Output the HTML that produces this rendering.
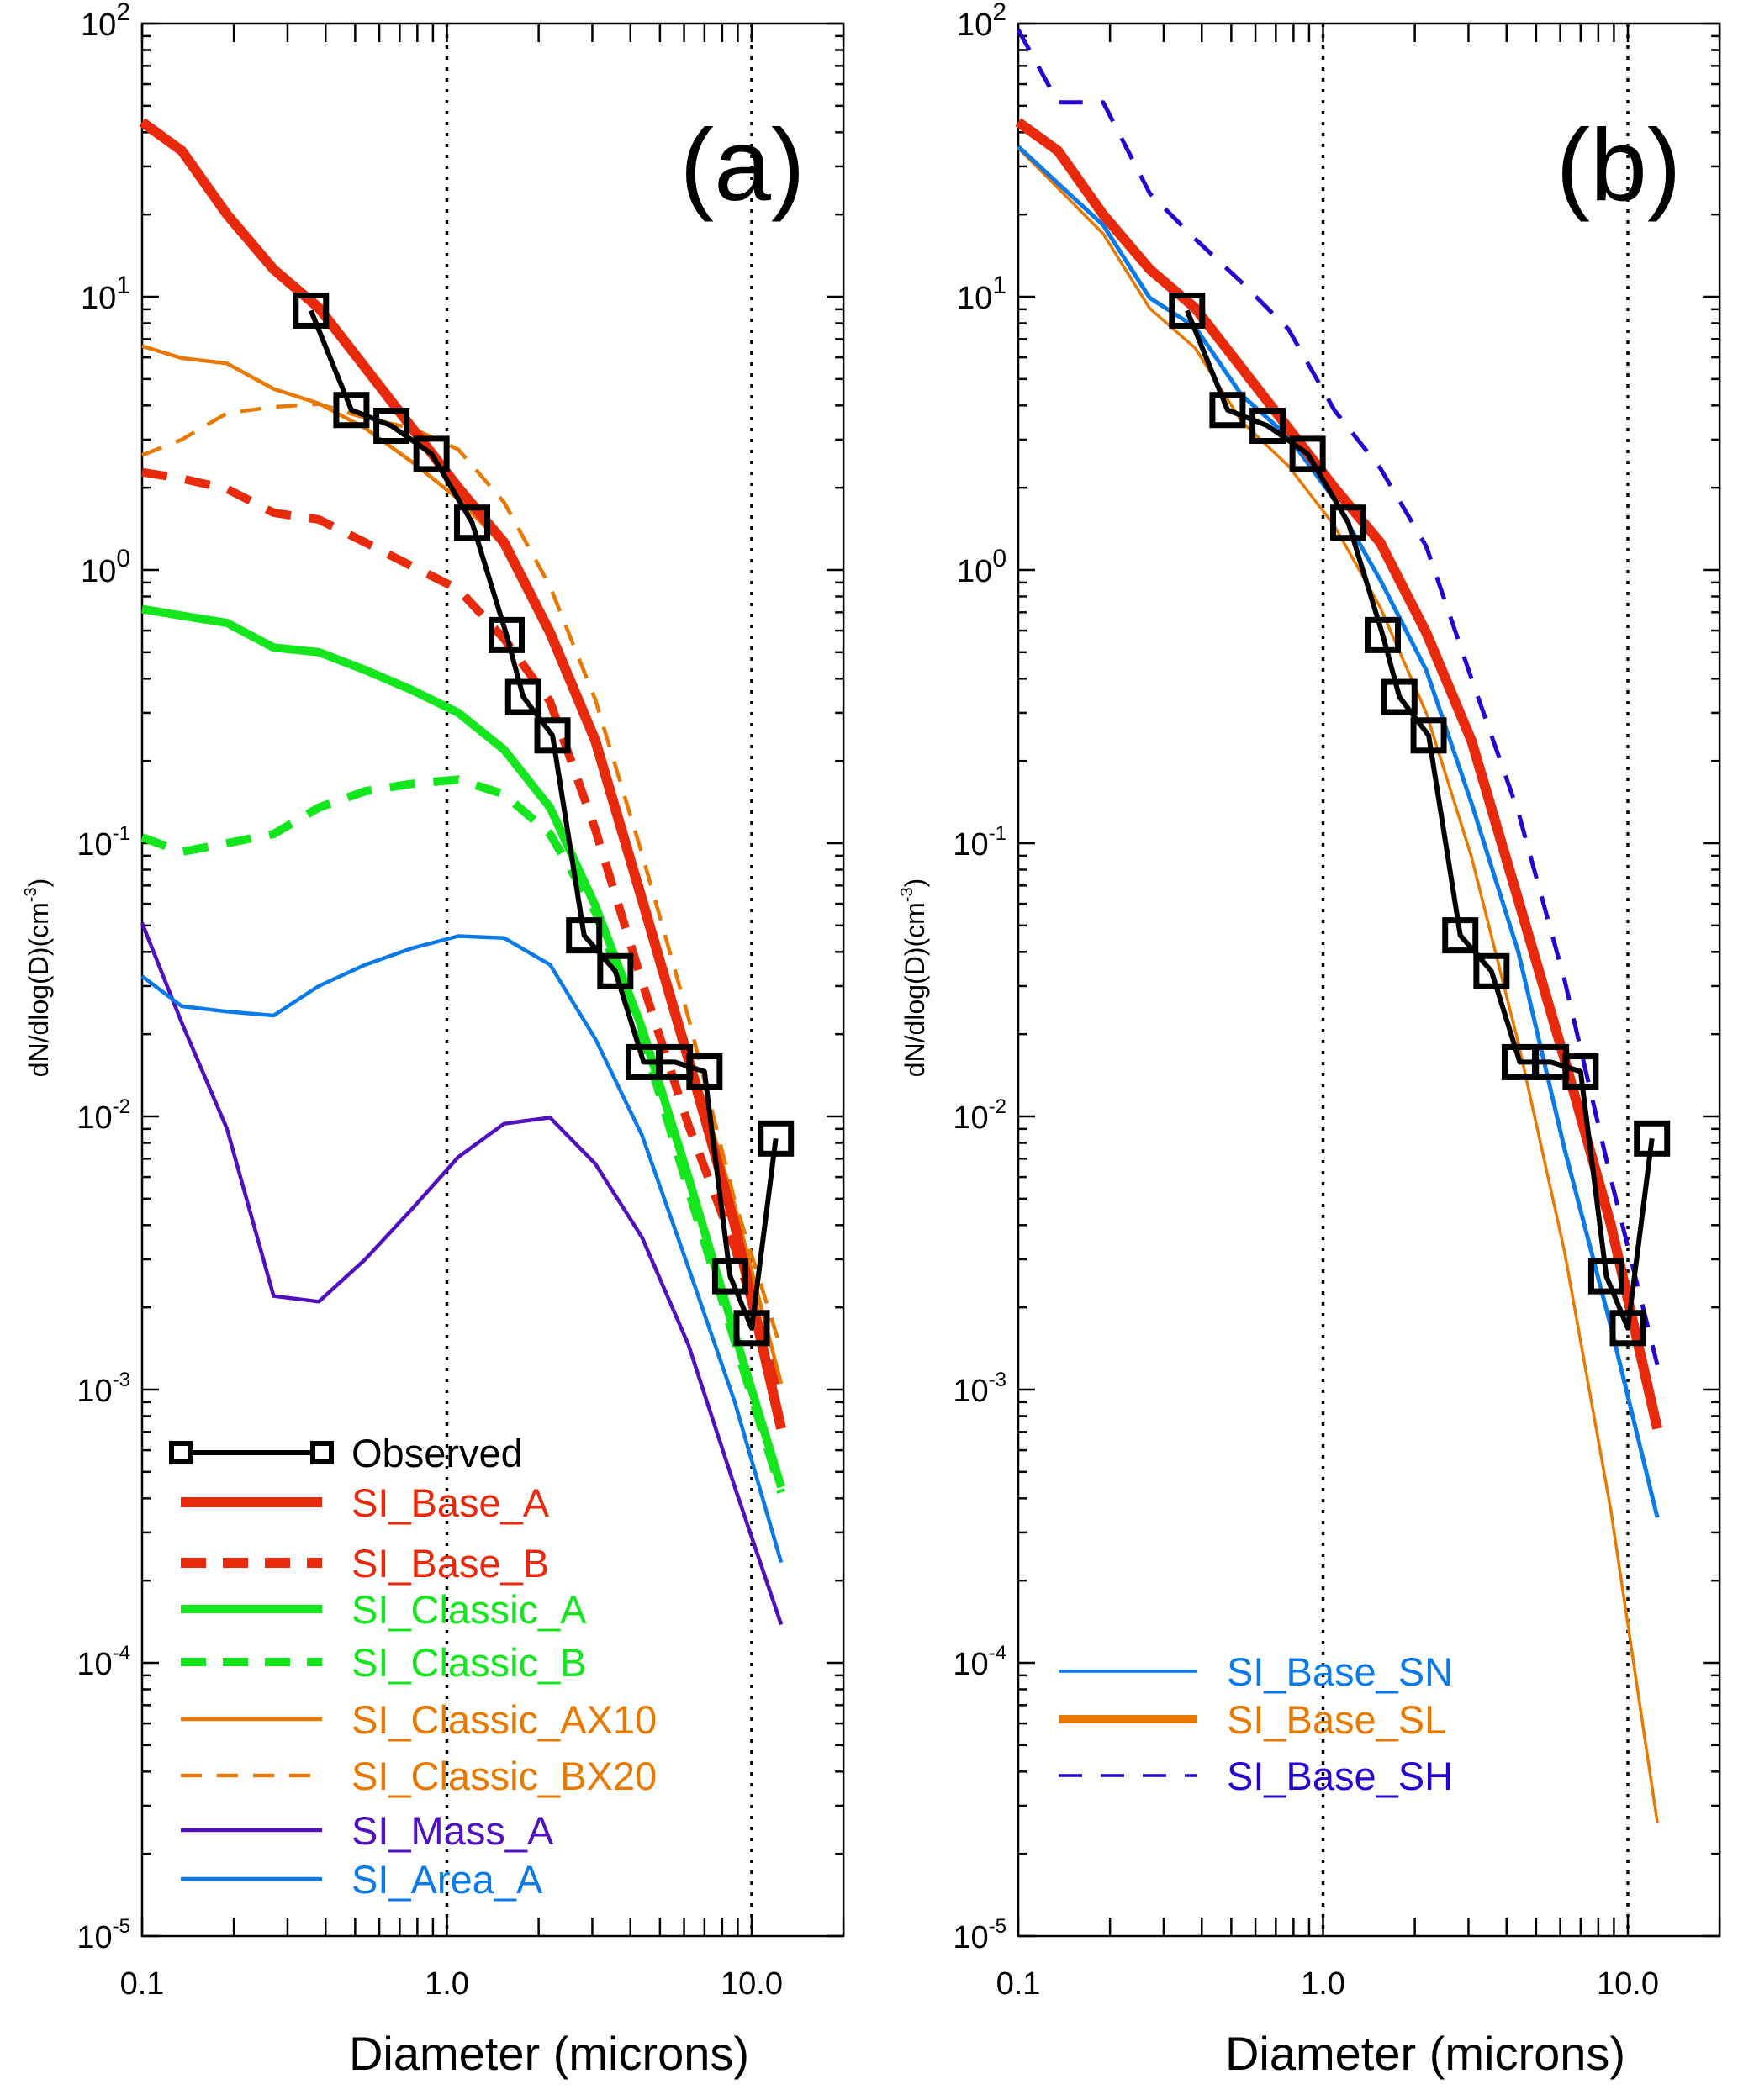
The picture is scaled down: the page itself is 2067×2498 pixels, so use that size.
<!DOCTYPE html>
<html><head><meta charset="utf-8"><style>
html,body{margin:0;padding:0;background:#fff;}
svg{display:block;font-family:"Liberation Sans",sans-serif;}
</style></head><body>
<svg id="chart" width="2067" height="2498" viewBox="0 0 2067 2498" xmlns="http://www.w3.org/2000/svg"></svg>
<script>
// ---- data ----
const gridX = [0.1,0.135,0.19,0.27,0.38,0.54,0.77,1.09,1.54,2.18,3.07,4.37,6.2,8.8,12.5];
const obsX = [0.358,0.486,0.658,0.89,1.21,1.57,1.78,2.22,2.82,3.57,4.42,5.6,7.0,8.5,10.0,12.0];
const obsY = [8.9,3.85,3.37,2.66,1.49,0.578,0.343,0.248,0.046,0.034,0.0158,0.0158,0.0146,0.0026,0.00168,0.0083];
const baseA = [43.6,34.2,20,12.6,9.1,5.5,3.3,2.0,1.26,0.59,0.237,0.062,0.0162,0.004,0.00072];
const baseB = [2.28,2.16,1.98,1.62,1.53,1.26,1.03,0.85,0.56,0.33,0.112,0.031,0.0093,0.0033,0.00095];
const classicA = [0.72,0.68,0.64,0.52,0.50,0.43,0.363,0.30,0.22,0.135,0.059,0.021,0.006,0.0016,0.00044];
const classicB = [0.105,0.093,0.10,0.108,0.135,0.155,0.165,0.171,0.151,0.108,0.056,0.0196,0.0054,0.0015,0.00042];
const classicAX10 = [6.6,5.96,5.7,4.6,4.07,3.3,2.48,1.82,1.22,0.62,0.248,0.068,0.0178,0.0047,0.00105];
const classicBX20 = [2.63,3.0,3.75,3.95,4.05,3.6,3.3,2.76,1.77,0.87,0.335,0.091,0.023,0.0049,0.0014];
const massA = [0.051,0.022,0.009,0.0022,0.0021,0.003,0.0046,0.0071,0.0094,0.0099,0.0067,0.0036,0.00146,0.00044,0.000138];
const areaA = [0.0326,0.0253,0.0242,0.0234,0.030,0.0359,0.0413,0.0457,0.045,0.0359,0.0192,0.0085,0.0028,0.0009,0.000233];
const baseSN = [35.5,26,18.3,9.9,7.76,4.37,3.07,1.81,0.92,0.43,0.14,0.040,0.0076,0.0017,0.00034];
const baseSL = [43.6,34.2,20,12.6,9.1,5.5,3.3,2.0,1.26,0.59,0.237,0.062,0.0162,0.004,0.00072];
const baseSLthin = [35,25,17,9.06,6.5,3.5,2.4,1.45,0.73,0.30,0.089,0.0186,0.0032,0.00036,0.000026];
const baseSH = [95,51.5,51.5,23.9,16.3,11.3,7.6,3.84,2.36,1.22,0.40,0.13,0.0316,0.0059,0.00123];
const xTickLabels = ["0.1","1.0","10.0"];
const xTickVals = [0.1,1,10];
const yExps = [2,1,0,-1,-2,-3,-4,-5];

// ---- geometry ----
const NS="http://www.w3.org/2000/svg";
const svg=document.getElementById('chart');
const TOP=28,BOT=2303,DEC_Y=(BOT-TOP)/7,DEC_X=362.5;
function mk(tag,attrs,parent){const e=document.createElementNS(NS,tag);for(const k in attrs)e.setAttribute(k,attrs[k]);(parent||svg).appendChild(e);return e;}
function py(v){return TOP+(2-Math.log10(v))*DEC_Y;}
function pxF(left){return v=>left+(Math.log10(v)+1)*DEC_X;}

function drawPanel(left,name,label){
  const px=pxF(left);
  const right=px(20);
  const g=mk('g',{});
  
  
  // dotted verticals
  [1,10].forEach(v=>{
    const l=mk('line',{x1:px(v),x2:px(v),y1:TOP,y2:BOT,stroke:'#000','stroke-width':3.5,'stroke-dasharray':'4 9'},g);
    
    
  });
  // frame
  const fr=mk('rect',{x:left,y:TOP,width:right-left,height:BOT-TOP,fill:'none',stroke:'#000','stroke-width':2.5},g);
  
  
  // x ticks
  for(let d=-1;d<=1;d++){for(let m=1;m<=9;m++){const v=m*Math.pow(10,d);if(v<0.1||v>20)continue;const x=px(v);
    mk('line',{x1:x,x2:x,y1:BOT,y2:BOT-22,stroke:'#000','stroke-width':2.5},g);
    mk('line',{x1:x,x2:x,y1:TOP,y2:TOP+22,stroke:'#000','stroke-width':2.5},g);}}
  // y ticks
  for(let e=-5;e<=2;e++){for(let m=1;m<=9;m++){if(e===2&&m>1)continue;const y=py(m*Math.pow(10,e));const L=m===1?20:10;
    mk('line',{x1:left,x2:left+L,y1:y,y2:y,stroke:'#000','stroke-width':2.5},g);
    mk('line',{x1:right,x2:right-L,y1:y,y2:y,stroke:'#000','stroke-width':2.5},g);}}
  // x tick labels
  xTickVals.forEach((v,i)=>{const t=mk('text',{x:px(v),y:2372,'font-size':38,'text-anchor':'middle',fill:'#000'},g);t.textContent=xTickLabels[i];
    
    });
  // y tick labels
  yExps.forEach(e=>{const t=mk('text',{x:left-14,y:py(Math.pow(10,e))+14,'font-size':38,'text-anchor':'end',fill:'#000'},g);
    
    
    const a=mk('tspan',{},t);a.textContent='10';const b=mk('tspan',{dy:-18,'font-size':24},t);b.textContent=String(e);
    if(e>=0){b.setAttribute('font-size','30');}});
  // axis titles
  const xt=mk('text',{x:left+484,y:2462,'font-size':56,'text-anchor':'middle',fill:'#000'},g);xt.textContent='Diameter (microns)';
  
  
  const yt=mk('text',{x:0,y:0,'font-size':32,'text-anchor':'middle',fill:'#000',transform:`translate(${left-112},1163) rotate(-90)`},g);
  
  
  const y1=mk('tspan',{},yt);y1.textContent='dN/dlog(D)(cm';
  const y2=mk('tspan',{dy:-14,'font-size':20},yt);y2.textContent='-3';
  const y3=mk('tspan',{dy:14},yt);y3.textContent=')';
  const pl=mk('text',{x:left+714,y:238,'font-size':122,'text-anchor':'middle',fill:'#000'},g);pl.textContent=label;
  
  
  return {g,px};
}
function series(P,xs,ys,color,w,dash,name){
  const pts=xs.map((x,i)=>P.px(x).toFixed(1)+','+py(ys[i]).toFixed(1)).join(' ');
  const a={points:pts,fill:'none',stroke:color,'stroke-width':w,'stroke-linejoin':'round'};
  if(dash)a['stroke-dasharray']=dash;
  const p=mk('polyline',a,P.g);
  
  
}
function observed(P){
  series(P,obsX,obsY,'#000',6,null,'observed-line');
  obsX.forEach((x,i)=>{const r=mk('rect',{x:P.px(x)-18,y:py(obsY[i])-18,width:36,height:36,fill:'none',stroke:'#000','stroke-width':7},P.g);
    
    });
}
function legendEntry(g,x1,x2,y,color,w,dash,text,tcol,name,squares){
  const l=mk('line',{x1,x2,y1:y,y2:y,stroke:color,'stroke-width':w},g);
  if(dash)l.setAttribute('stroke-dasharray',dash);
  
  
  if(squares){[x1,x2].forEach(x=>{mk('rect',{x:x-11,y:y-11,width:22,height:22,fill:'#fff',stroke:'#000','stroke-width':6},g);});}
  const t=mk('text',{x:x2+35,y:y+17,'font-size':47,fill:tcol},g);t.textContent=text;
  
  
}

const RED='#e8290b',GRN='#14e61e',ORG='#e87800',PUR='#5010c0',BLU='#0a7ae8',NAV='#2800d0';
// Panel (a)
const A=drawPanel(169,'panel-a','(a)');
series(A,gridX,massA,PUR,4.5,null,'si-mass-a-line');
series(A,gridX,areaA,BLU,4.5,null,'si-area-a-line');
series(A,gridX,classicB,GRN,10,'30 22','si-classic-b-line');
series(A,gridX,classicA,GRN,10,null,'si-classic-a-line');
series(A,gridX,baseB,RED,10,'30 22','si-base-b-line');
series(A,gridX,classicBX20,ORG,4.5,'25 18','si-classic-bx20-line');
series(A,gridX,classicAX10,ORG,4.5,null,'si-classic-ax10-line');
series(A,gridX,baseA,RED,12,null,'si-base-a-line');
observed(A);
const LA=mk('g',{});
legendEntry(LA,215,383,1728,'#000',6,null,'Observed','#000','legend-observed',true);
legendEntry(LA,215,383,1787,RED,12,null,'SI_Base_A',RED,'legend-si-base-a');
legendEntry(LA,215,383,1859,RED,12,'30 20','SI_Base_B',RED,'legend-si-base-b');
legendEntry(LA,215,383,1914,GRN,10,null,'SI_Classic_A',GRN,'legend-si-classic-a');
legendEntry(LA,215,383,1977,GRN,10,'30 20','SI_Classic_B',GRN,'legend-si-classic-b');
legendEntry(LA,215,383,2045,ORG,4.5,null,'SI_Classic_AX10',ORG,'legend-si-classic-ax10');
legendEntry(LA,215,383,2112,ORG,4.5,'25 18','SI_Classic_BX20',ORG,'legend-si-classic-bx20');
legendEntry(LA,215,383,2177,PUR,4.5,null,'SI_Mass_A',PUR,'legend-si-mass-a');
legendEntry(LA,215,383,2235,BLU,4.5,null,'SI_Area_A',BLU,'legend-si-area-a');

// Panel (b)
const B=drawPanel(1211,'panel-b','(b)');
series(B,gridX,baseSLthin,ORG,3.5,null,'si-base-sl-thin-line');
series(B,gridX,baseSN,BLU,5,null,'si-base-sn-line');
series(B,gridX,baseSH,NAV,5,'28 22','si-base-sh-line');
series(B,gridX,baseSL,RED,12,null,'si-base-sl-line');
observed(B);
const LB=mk('g',{});
legendEntry(LB,1259,1424,1988,BLU,3.5,null,'SI_Base_SN',BLU,'legend-si-base-sn');
legendEntry(LB,1259,1424,2045,ORG,10,null,'SI_Base_SL',ORG,'legend-si-base-sl');
legendEntry(LB,1259,1424,2112,NAV,3.5,'28 22','SI_Base_SH',NAV,'legend-si-base-sh');
</script>
</body></html>
